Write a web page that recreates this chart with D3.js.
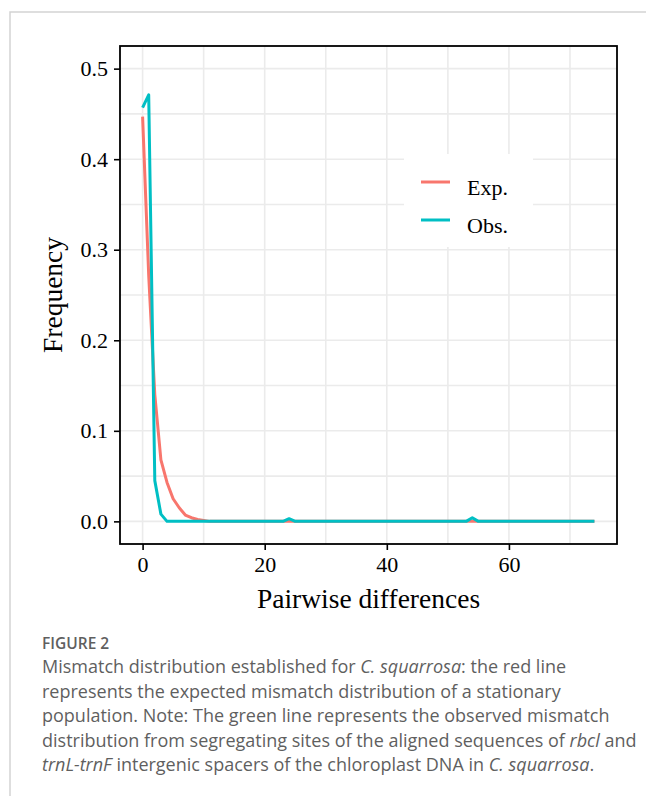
<!DOCTYPE html>
<html>
<head>
<meta charset="utf-8">
<script src="https://cdn.jsdelivr.net/npm/d3@7"></script>
<style>
  body { margin: 0; background: #fff; }
  svg { display: block; }
</style>
</head>
<body>
<svg id="chart" width="646" height="796"></svg>
<script>
// pairwise differences 0..74
var diffs = d3.range(0, 75);

// expected (red) mismatch distribution
var expFreq = [0.447, 0.272, 0.140, 0.068, 0.043, 0.025, 0.015, 0.007, 0.004, 0.002,
  0.001, 0, 0, 0, 0, 0, 0, 0, 0, 0,
  0, 0, 0, 0, 0, 0, 0, 0, 0, 0,
  0, 0, 0, 0, 0, 0, 0, 0, 0, 0,
  0, 0, 0, 0, 0, 0, 0, 0, 0, 0,
  0, 0, 0, 0, 0, 0, 0, 0, 0, 0,
  0, 0, 0, 0, 0, 0, 0, 0, 0, 0,
  0, 0, 0, 0, 0];

// observed (blue) mismatch distribution
var obsFreq = [0.457, 0.471, 0.045, 0.008, 0, 0, 0, 0, 0, 0,
  0, 0, 0, 0, 0, 0, 0, 0, 0, 0,
  0, 0, 0, 0, 0.003, 0, 0, 0, 0, 0,
  0, 0, 0, 0, 0, 0, 0, 0, 0, 0,
  0, 0, 0, 0, 0, 0, 0, 0, 0, 0,
  0, 0, 0, 0, 0.004, 0, 0, 0, 0, 0,
  0, 0, 0, 0, 0, 0, 0, 0, 0, 0,
  0, 0, 0, 0, 0];

var xTicks = [0, 20, 40, 60],
    xMinor = [10, 30, 50, 70],
    yTicks = [0, 0.1, 0.2, 0.3, 0.4, 0.5],
    yMinor = [0.05, 0.15, 0.25, 0.35, 0.45];

var seriesNames = ["Exp.", "Obs."];
var seriesColors = ["#F8766D", "#00BFC4"];

var svg = d3.select("#chart"),
    panel = {left: 120, top: 46, right: 617, bottom: 544},
    serif = "'Liberation Serif', 'Times New Roman', serif",
    sans = "'Open Sans', 'Noto Sans', sans-serif";

// card border of the figure
svg.append("path")
    .attr("d", "M10,796V12H646")
    .attr("fill", "none")
    .attr("stroke", "#d3d3d3")
    .attr("stroke-width", 1.5);

var x = d3.scaleLinear().domain([-3.7, 77.7]).range([panel.left, panel.right]),
    y = d3.scaleLinear().domain([-0.025, 0.525]).range([panel.bottom, panel.top]);

var g = svg.append("g");

// grid
g.selectAll(".gx").data(xMinor.concat(xTicks)).enter().append("line")
    .attr("x1", function(d) { return x(d); }).attr("x2", function(d) { return x(d); })
    .attr("y1", panel.top).attr("y2", panel.bottom)
    .attr("stroke", "#ebebeb").attr("stroke-width", 1.6);
g.selectAll(".gy").data(yMinor.concat(yTicks)).enter().append("line")
    .attr("y1", function(d) { return y(d); }).attr("y2", function(d) { return y(d); })
    .attr("x1", panel.left).attr("x2", panel.right)
    .attr("stroke", "#ebebeb").attr("stroke-width", 1.6);

// lines
var line = d3.line()
    .x(function(d) { return x(d[0]); })
    .y(function(d) { return y(d[1]); });

[expFreq, obsFreq].forEach(function(vals, i) {
  g.append("path")
      .datum(diffs.map(function(d, j) { return [d, vals[j]]; }))
      .attr("d", line)
      .attr("fill", "none")
      .attr("stroke", seriesColors[i])
      .attr("stroke-width", 3)
      .attr("stroke-linejoin", "round");
});

// legend
var leg = svg.append("g");
leg.append("rect")
    .attr("x", 404).attr("y", 154).attr("width", 129).attr("height", 93)
    .attr("fill", "#fff");
seriesNames.forEach(function(name, i) {
  var ky = 182 + i * 38;
  leg.append("line")
      .attr("x1", 421).attr("x2", 450).attr("y1", ky).attr("y2", ky)
      .attr("stroke", seriesColors[i]).attr("stroke-width", 3);
  leg.append("text")
      .attr("x", 467).attr("y", ky + 13)
      .attr("font-family", serif).attr("font-size", 22)
      .attr("fill", "#000")
      .text(name);
});

// panel border
svg.append("rect")
    .attr("x", panel.left).attr("y", panel.top)
    .attr("width", panel.right - panel.left).attr("height", panel.bottom - panel.top)
    .attr("fill", "none").attr("stroke", "#000").attr("stroke-width", 1.8);

// axes
var yAxis = svg.append("g")
    .attr("transform", "translate(" + panel.left + ",0)")
    .call(d3.axisLeft(y).tickValues(yTicks).tickFormat(d3.format(".1f")).tickSize(6).tickPadding(6));
var xAxis = svg.append("g")
    .attr("transform", "translate(0," + panel.bottom + ")")
    .call(d3.axisBottom(x).tickValues(xTicks).tickSize(6).tickPadding(6));

[yAxis, xAxis].forEach(function(ax) {
  ax.select(".domain").remove();
  ax.selectAll(".tick line").attr("stroke", "#000").attr("stroke-width", 1.6);
  ax.selectAll(".tick text")
      .attr("font-family", serif).attr("font-size", 22).attr("fill", "#000");
});

// axis titles
svg.append("text")
    .attr("x", (panel.left + panel.right) / 2).attr("y", 608)
    .attr("text-anchor", "middle")
    .attr("font-family", serif).attr("font-size", 27.5)
    .text("Pairwise differences");
svg.append("text")
    .attr("transform", "translate(62," + (panel.top + panel.bottom) / 2 + ") rotate(-90)")
    .attr("text-anchor", "middle")
    .attr("font-family", serif).attr("font-size", 27.5)
    .text("Frequency");

// caption
var capLines = [
  [["Mismatch distribution established for ", false], ["C. squarrosa", true], [": the red line", false]],
  [["represents the expected mismatch distribution of a stationary", false]],
  [["population. Note: The green line represents the observed mismatch", false]],
  [["distribution from segregating sites of the aligned sequences of ", false], ["rbcl", true], [" and", false]],
  [["trnL-trnF", true], [" intergenic spacers of the chloroplast DNA in ", false], ["C. squarrosa", true], [".", false]]
];

svg.append("text")
    .attr("x", 42).attr("y", 649)
    .attr("font-family", sans).attr("font-size", 15.5).attr("font-weight", 600)
    .attr("fill", "#5f5f5f")
    .text("FIGURE 2");

var cap = svg.append("text")
    .attr("font-family", sans).attr("font-size", 18)
    .attr("fill", "#5f5f5f");
capLines.forEach(function(parts, i) {
  parts.forEach(function(p, j) {
    var t = cap.append("tspan")
        .attr("font-style", p[1] ? "italic" : "normal")
        .text(p[0]);
    if (j === 0) t.attr("x", 42).attr("y", 673 + i * 24.5);
  });
});
</script>
</body>
</html>
